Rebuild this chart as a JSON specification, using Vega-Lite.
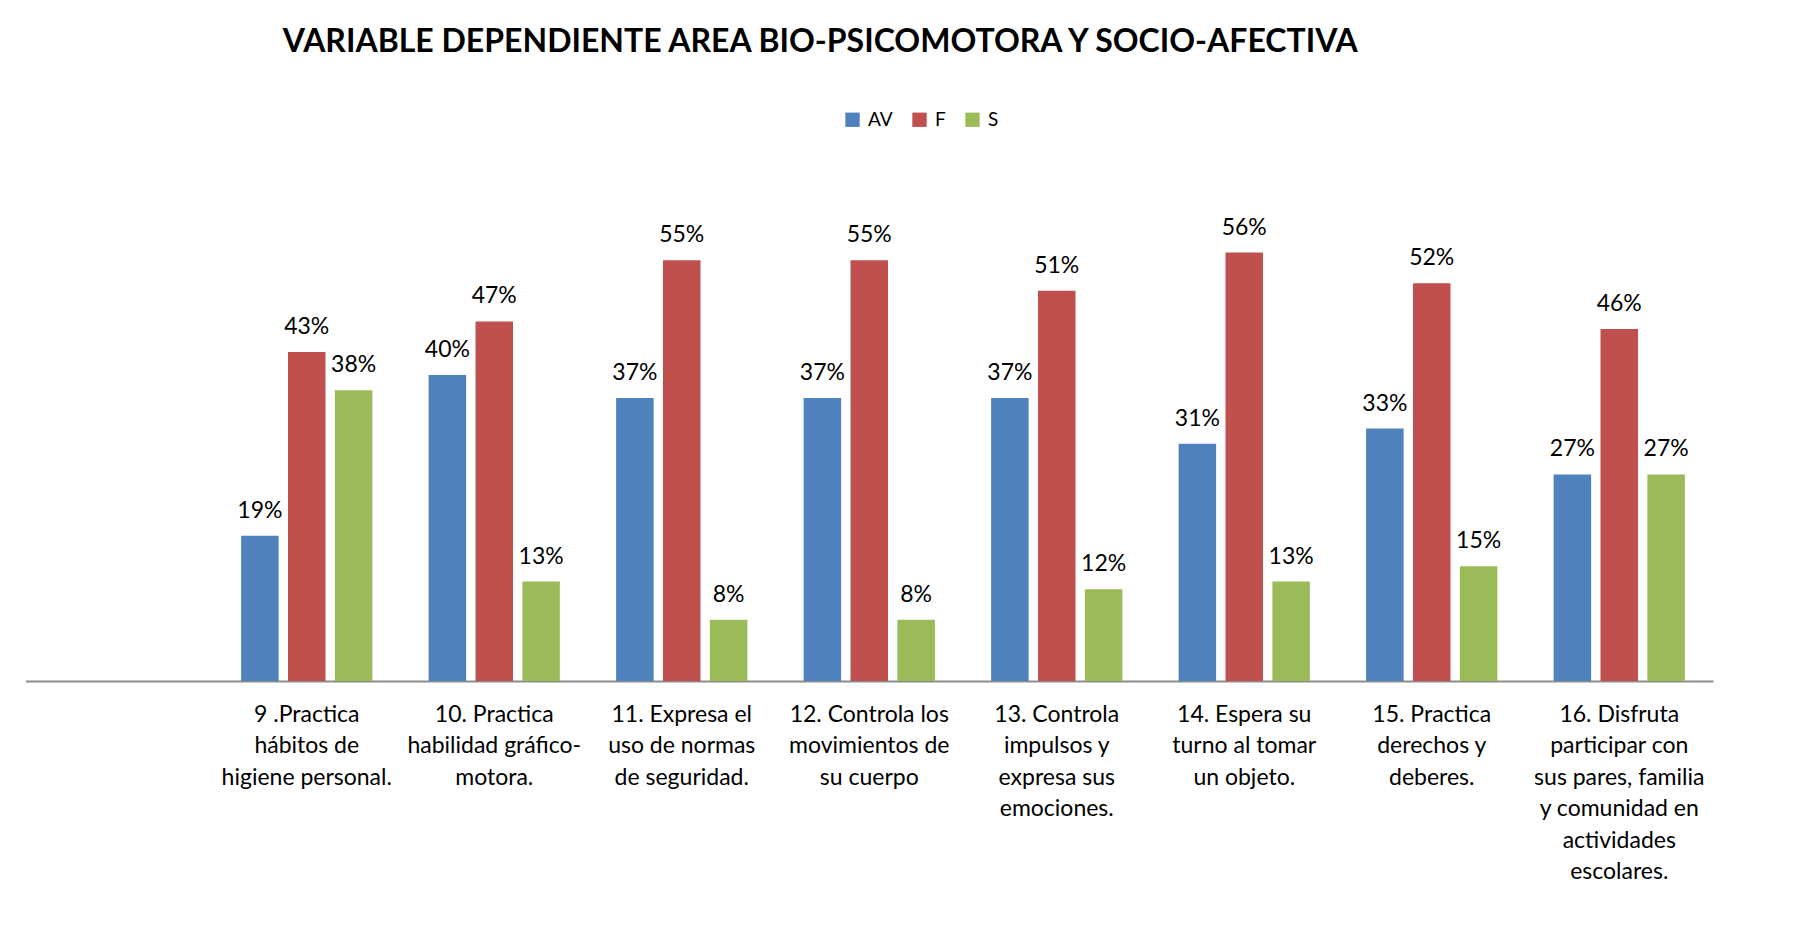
{
  "$schema": "https://vega.github.io/schema/vega-lite/v6.json",
  "autosize": {"type": "none"},
  "padding": {"left": 25.5, "top": 222, "right": 87, "bottom": 247},
  "width": 1687.5,
  "height": 459,
  "background": "white",
  "title": {
    "text": "VARIABLE DEPENDIENTE AREA BIO-PSICOMOTORA Y SOCIO-AFECTIVA",
    "font": "Lato",
    "fontSize": 32,
    "fontWeight": "bold",
    "color": "#000000",
    "anchor": "middle",
    "frame": "group",
    "dx": -49,
    "baseline": "alphabetic",
    "offset": 26
  },
  "config": {
    "view": {"stroke": null},
    "font": "Lato"
  },
  "data": {
    "values": [
      {"item": "9 .Practica|hábitos de|higiene personal.", "serie": "AV", "valor": 0.19},
      {"item": "9 .Practica|hábitos de|higiene personal.", "serie": "F", "valor": 0.43},
      {"item": "9 .Practica|hábitos de|higiene personal.", "serie": "S", "valor": 0.38},
      {"item": "10. Practica|habilidad gráfico-|motora.", "serie": "AV", "valor": 0.40},
      {"item": "10. Practica|habilidad gráfico-|motora.", "serie": "F", "valor": 0.47},
      {"item": "10. Practica|habilidad gráfico-|motora.", "serie": "S", "valor": 0.13},
      {"item": "11. Expresa el|uso de normas|de seguridad.", "serie": "AV", "valor": 0.37},
      {"item": "11. Expresa el|uso de normas|de seguridad.", "serie": "F", "valor": 0.55},
      {"item": "11. Expresa el|uso de normas|de seguridad.", "serie": "S", "valor": 0.08},
      {"item": "12. Controla los|movimientos de|su cuerpo", "serie": "AV", "valor": 0.37},
      {"item": "12. Controla los|movimientos de|su cuerpo", "serie": "F", "valor": 0.55},
      {"item": "12. Controla los|movimientos de|su cuerpo", "serie": "S", "valor": 0.08},
      {"item": "13. Controla|impulsos y|expresa sus|emociones.", "serie": "AV", "valor": 0.37},
      {"item": "13. Controla|impulsos y|expresa sus|emociones.", "serie": "F", "valor": 0.51},
      {"item": "13. Controla|impulsos y|expresa sus|emociones.", "serie": "S", "valor": 0.12},
      {"item": "14. Espera su|turno al tomar|un objeto.", "serie": "AV", "valor": 0.31},
      {"item": "14. Espera su|turno al tomar|un objeto.", "serie": "F", "valor": 0.56},
      {"item": "14. Espera su|turno al tomar|un objeto.", "serie": "S", "valor": 0.13},
      {"item": "15. Practica|derechos y|deberes.", "serie": "AV", "valor": 0.33},
      {"item": "15. Practica|derechos y|deberes.", "serie": "F", "valor": 0.52},
      {"item": "15. Practica|derechos y|deberes.", "serie": "S", "valor": 0.15},
      {"item": "16. Disfruta|participar  con|sus pares, familia|y comunidad en|actividades|escolares.", "serie": "AV", "valor": 0.27},
      {"item": "16. Disfruta|participar  con|sus pares, familia|y comunidad en|actividades|escolares.", "serie": "F", "valor": 0.46},
      {"item": "16. Disfruta|participar  con|sus pares, familia|y comunidad en|actividades|escolares.", "serie": "S", "valor": 0.27}
    ]
  },
  "encoding": {
    "x": {
      "field": "item",
      "type": "nominal",
      "sort": null,
      "scale": {
        "domain": [" ", "9 .Practica|hábitos de|higiene personal.", "10. Practica|habilidad gráfico-|motora.", "11. Expresa el|uso de normas|de seguridad.", "12. Controla los|movimientos de|su cuerpo", "13. Controla|impulsos y|expresa sus|emociones.", "14. Espera su|turno al tomar|un objeto.", "15. Practica|derechos y|deberes.", "16. Disfruta|participar  con|sus pares, familia|y comunidad en|actividades|escolares."],
        "paddingInner": 0.3,
        "paddingOuter": 0.15
      },
      "axis": {
        "title": null,
        "labelAngle": 0,
        "labelExpr": "split(datum.label, '|')",
        "labelFont": "Lato",
        "labelFontSize": 23,
        "labelColor": "#000000",
        "labelLineHeight": 31.5,
        "labelPadding": 22,
        "labelBaseline": "top",
        "labelAlign": "center",
        "labelLimit": 0,
        "labelOverlap": false,
        "ticks": false,
        "domainColor": "#8c8c8c",
        "domainWidth": 2,
        "grid": false
      }
    },
    "xOffset": {
      "field": "serie",
      "type": "nominal",
      "scale": {"domain": ["AV", "F", "S"], "paddingInner": 0.2, "paddingOuter": 0}
    },
    "y": {
      "field": "valor",
      "type": "quantitative",
      "scale": {"domain": [0, 0.6], "nice": false},
      "axis": null
    }
  },
  "layer": [
    {
      "mark": {"type": "bar"},
      "encoding": {
        "color": {
          "field": "serie",
          "type": "nominal",
          "scale": {"domain": ["AV", "F", "S"], "range": ["#4F81BD", "#C0504D", "#9BBB59"]},
          "legend": {
            "title": null,
            "orient": "none",
            "direction": "horizontal",
            "legendX": 817.5,
            "legendY": -112,
            "padding": 0,
            "symbolType": "square",
            "symbolSize": 205,
            "symbolStrokeWidth": 0,
            "labelFont": "Lato",
            "labelFontSize": 19,
            "labelColor": "#000000",
            "labelOffset": 6,
            "columnPadding": 17
          }
        }
      }
    },
    {
      "mark": {"type": "text", "font": "Lato", "fontSize": 23, "color": "#000000", "baseline": "alphabetic", "dy": -18},
      "encoding": {
        "text": {"field": "valor", "type": "quantitative", "format": ".0%"}
      }
    }
  ]
}
